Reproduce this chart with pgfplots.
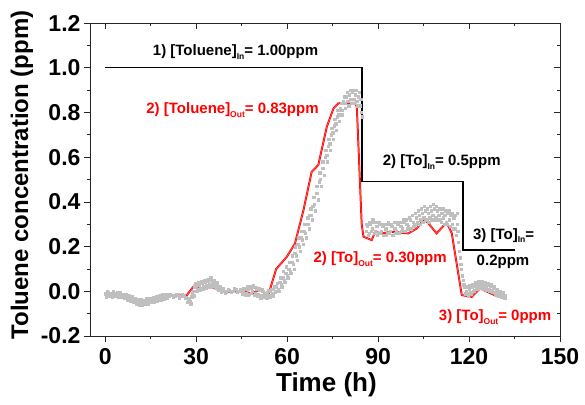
\documentclass[border=0pt]{standalone}
\usepackage{fontspec}
\setmainfont{Liberation Sans}
\usepackage{pgfplots}
\pgfplotsset{compat=1.18}
\newcommand\sub[1]{\raisebox{-0.45ex}{\fontsize{8.5}{8.5}\selectfont #1}}
\begin{document}
\begin{tikzpicture}
\useasboundingbox (-90pt,-68pt) rectangle (495pt,336pt);
\pgfplotsset{
  base/.style={
    scale only axis, width=470pt, height=313pt,
    xmin=-5, xmax=150, ymin=-0.2, ymax=1.2,
    xtick={0,30,...,150}, ytick={-0.2,0,...,1.2},
    minor x tick num=1, minor y tick num=1,
    axis line style={line width=0.7pt, black!85},
    major tick length=6pt, minor tick length=3pt,
    every tick/.style={black!85, line width=0.6pt},
  }
}
\begin{axis}[base,
  tick pos=left, tick align=outside,
  /pgf/number format/assume math mode=true,
  ticklabel style={font=\fontsize{23}{23}\selectfont\bfseries},
  xticklabel style={yshift=-3pt},
  yticklabel style={/pgf/number format/fixed, /pgf/number format/fixed zerofill, /pgf/number format/precision=1},
  xlabel={Time (h)}, ylabel={Toluene concentration (ppm)},
  xlabel style={font=\fontsize{26}{26}\selectfont\bfseries, at={(axis description cs:0.503,-0.157)}, anchor=center},
  ylabel style={font=\fontsize{24}{24}\selectfont\bfseries, at={(axis description cs:-0.145,0.515)}, anchor=center},
  clip=false,
]
% raw measured data (gray)
\addplot[only marks, mark=square*, mark size=1.2pt, color=black!25] coordinates {
(0,-0.01) (0.5,-0.02) (1,-0.005) (1.5,-0.015) (2,-0.02) (2.5,-0.008) (3,-0.012) (3.5,-0.022) (4,-0.005) (4.5,-0.018)
(5,-0.01) (5.5,-0.025) (6,-0.015) (6.5,-0.02) (7,-0.03) (7.5,-0.022) (8,-0.035) (8.5,-0.028) (9,-0.04) (9.5,-0.032)
(10,-0.045) (10.5,-0.038) (11,-0.05) (11.5,-0.042) (12,-0.055) (12.5,-0.045) (13,-0.05) (13.5,-0.038) (14,-0.052) (14.5,-0.04)
(15,-0.045) (15.5,-0.035) (16,-0.042) (16.5,-0.03) (17,-0.038) (17.5,-0.026) (18,-0.032) (18.5,-0.022) (19,-0.03) (19.5,-0.018)
(20,-0.025) (20.5,-0.015) (21,-0.022) (22,-0.018) (23,-0.02) (24,-0.015) (25,-0.022) (26,-0.02) (27,-0.03) (27.5,-0.04)
(28,-0.045) (28.5,-0.025) (29,0.0) (29.5,0.02) (30,0.025) (30.5,0.01) (31,0.03) (31.5,0.015) (32,0.035) (32.5,0.02)
(33,0.04) (33.5,0.025) (34,0.045) (34.5,0.03) (35,0.05) (35.5,0.035) (36,0.04) (36.5,0.025) (37,0.03) (37.5,0.015)
(38,0.01) (38.5,0.0) (39,0.005) (40,-0.002) (41,0.005) (42,0.0) (43,0.008) (44,0.0) (45,0.005) (45.5,-0.005)
(46,0.01) (46.5,-0.008) (47,0.012) (47.5,-0.012) (48,0.015) (48.5,0.0) (49,0.018) (49.5,-0.01) (50,0.01) (50.5,-0.015)
(51,0.005) (51.5,-0.02) (52,0.0) (52.5,-0.015) (53,-0.02) (53.5,-0.005) (54,-0.018) (54.5,0.0) (55,-0.01) (55.5,0.01)
(56,-0.005) (56.5,0.02) (57,0.01) (57.5,0.04) (58,0.03) (58.5,0.06) (59,0.05) (59.5,0.08) (60,0.07) (60.5,0.1)
(61,0.09) (61.5,0.13) (62,0.12) (62.5,0.17) (63,0.16) (63.5,0.21) (64,0.2) (64.5,0.24) (65,0.23) (65.5,0.27)
(66,0.26) (66.5,0.3) (67,0.3) (67.5,0.34) (68,0.34) (68.5,0.38) (69,0.39) (69.5,0.44) (70,0.44) (70.5,0.49)
(71,0.5) (71.5,0.55) (72,0.55) (72.5,0.6) (73,0.61) (73.5,0.65) (74,0.66) (74.5,0.7) (75,0.71) (75.5,0.74)
(76,0.75) (76.5,0.78) (77,0.79) (77.5,0.82) (78,0.81) (78.5,0.85) (79,0.84) (79.5,0.87) (80,0.85) (80.5,0.88)
(81,0.86) (81.5,0.89) (82,0.86) (82.5,0.88) (83,0.85) (83.5,0.87) (84,0.83) (84.5,0.8)
(86,0.27) (86.5,0.29) (87,0.26) (87.5,0.3) (88,0.28) (88.5,0.31) (89,0.27) (89.5,0.29) (90,0.26) (90.5,0.3)
(91,0.27) (91.5,0.29) (92,0.25) (92.5,0.28) (93,0.26) (93.5,0.3) (94,0.27) (94.5,0.29) (95,0.25) (95.5,0.28)
(96,0.27) (96.5,0.3) (97,0.26) (97.5,0.29) (98,0.28) (98.5,0.31) (99,0.27) (99.5,0.3) (100,0.29) (100.5,0.32)
(101,0.28) (101.5,0.31) (102,0.3) (102.5,0.33) (103,0.31) (103.5,0.34) (104,0.32) (104.5,0.35) (105,0.33) (105.5,0.36)
(106,0.32) (106.5,0.35) (107,0.33) (107.5,0.36) (108,0.34) (108.5,0.37) (109,0.33) (109.5,0.36) (110,0.34) (110.5,0.32)
(111,0.35) (111.5,0.33) (112,0.34) (112.5,0.31) (113,0.35) (113.5,0.32) (114,0.34) (114.5,0.3) (115,0.33) (115.5,0.28)
(116,0.3) (116,0.35) (116.5,0.22) (117,0.15) (117.5,0.1) (118,0.05) (118.5,0.02) (119,0.0) (119.5,-0.01) (120,0.01)
(120.5,-0.005) (121,0.02) (121.5,0.0) (122,0.025) (122.5,0.01) (123,0.03) (123.5,0.015) (124,0.035) (124.5,0.02) (125,0.03)
(125.5,0.015) (126,0.028) (126.5,0.01) (127,0.025) (127.5,0.005) (128,0.015) (128.5,-0.005) (129,0.005) (129.5,-0.01) (130,-0.005)
(130.5,-0.02) (131,-0.012) (131.5,-0.025) (132,-0.02)
};
\addplot[only marks, mark=square*, mark size=1.2pt, color=black!25] coordinates {
(0.25,-0.025) (0.75,0.0) (1.25,-0.022) (1.75,-0.008) (2.25,-0.025) (2.75,0.0) (3.25,-0.018) (3.75,-0.01) (4.25,-0.025) (4.75,-0.005)
(5.25,-0.02) (5.75,-0.012) (6.25,-0.028) (6.75,-0.012) (7.25,-0.038) (7.75,-0.018) (8.25,-0.045) (8.75,-0.025) (9.25,-0.05) (9.75,-0.03)
(10.25,-0.055) (10.75,-0.035) (11.25,-0.06) (11.75,-0.035) (12.25,-0.06) (12.75,-0.04) (13.25,-0.058) (13.75,-0.03) (14.25,-0.055) (14.75,-0.032)
(15.25,-0.05) (15.75,-0.028) (16.25,-0.048) (16.75,-0.025) (17.25,-0.042) (17.75,-0.02) (18.25,-0.038) (18.75,-0.015) (19.25,-0.035) (19.75,-0.012)
(20.25,-0.03) (21.5,-0.012) (22.5,-0.025) (23.5,-0.012) (24.5,-0.028) (25.5,-0.015) (26.5,-0.028) (27.25,-0.05) (27.75,-0.03) (28.25,-0.055)
(28.75,-0.01) (29.25,-0.02) (29.75,0.035) (30.25,0.0) (30.75,0.04) (31.25,0.005) (31.75,0.045) (32.25,0.01) (32.75,0.05) (33.25,0.015)
(33.75,0.055) (34.25,0.02) (34.75,0.06) (35.25,0.025) (35.75,0.05) (36.25,0.015) (36.75,0.04) (37.25,0.005) (37.75,0.02) (38.25,-0.005)
(38.75,0.012) (39.5,-0.008) (40.5,0.01) (41.5,-0.005) (42.5,0.012) (43.5,-0.005) (44.5,0.01) (45.25,-0.012) (45.75,0.015) (46.25,-0.015)
(46.75,0.02) (47.25,-0.018) (47.75,0.022) (48.25,-0.008) (48.75,0.025) (49.25,-0.018) (49.75,0.018) (50.25,-0.022) (50.75,0.012) (51.25,-0.028)
(51.75,0.008) (52.25,-0.025) (52.75,-0.01) (53.25,-0.03) (53.75,0.005) (54.25,-0.025) (54.75,0.01) (55.25,-0.02) (55.75,0.02) (56.25,0.0)
(56.75,0.035) (57.25,0.0) (57.75,0.06) (58.25,0.02) (58.75,0.09) (59.25,0.04) (59.75,0.11) (60.25,0.06) (60.75,0.13) (61.25,0.08)
(61.75,0.16) (62.25,0.1) (62.75,0.2) (63.25,0.14) (63.75,0.24) (64.25,0.18) (64.75,0.27) (65.25,0.21) (65.75,0.3) (66.25,0.24)
(66.75,0.33) (67.25,0.28) (67.75,0.37) (68.25,0.32) (68.75,0.42) (69.25,0.36) (69.75,0.47) (70.25,0.41) (70.75,0.53) (71.25,0.47)
(71.75,0.58) (72.25,0.52) (72.75,0.63) (73.25,0.58) (73.75,0.68) (74.25,0.63) (74.75,0.73) (75.25,0.68) (75.75,0.77) (76.25,0.72)
(76.75,0.81) (77.25,0.76) (77.75,0.84) (78.25,0.79) (78.75,0.87) (79.25,0.82) (79.75,0.89) (80.25,0.83) (80.75,0.9) (81.25,0.84)
(81.75,0.9) (82.25,0.84) (82.75,0.9) (83.25,0.83) (83.75,0.89) (84.25,0.86) (84.75,0.78)
(86.25,0.3) (86.75,0.25) (87.25,0.31) (87.75,0.27) (88.25,0.32) (88.75,0.26) (89.25,0.31) (89.75,0.25) (90.25,0.31) (90.75,0.26)
(91.25,0.3) (91.75,0.25) (92.25,0.3) (92.75,0.25) (93.25,0.31) (93.75,0.26) (94.25,0.3) (94.75,0.25) (95.25,0.31) (95.75,0.26)
(96.25,0.31) (96.75,0.26) (97.25,0.31) (97.75,0.27) (98.25,0.32) (98.75,0.27) (99.25,0.32) (99.75,0.28) (100.25,0.33) (100.75,0.28)
(101.25,0.34) (101.75,0.29) (102.25,0.35) (102.75,0.3) (103.25,0.36) (103.75,0.3) (104.25,0.37) (104.75,0.31) (105.25,0.38) (105.75,0.32)
(106.25,0.37) (106.75,0.31) (107.25,0.38) (107.75,0.32) (108.25,0.39) (108.75,0.32) (109.25,0.38) (109.75,0.32) (110.25,0.37) (110.75,0.31)
(111.25,0.37) (111.75,0.3) (112.25,0.36) (112.75,0.3) (113.25,0.36) (113.75,0.29) (114.25,0.35) (114.75,0.28) (115.25,0.34) (115.75,0.25)
(116.25,0.27) (116.75,0.18) (117.25,0.12) (117.75,0.07) (118.25,0.03) (118.75,-0.01) (119.25,0.02) (119.75,-0.02) (120.25,0.025) (120.75,-0.01)
(121.25,0.03) (121.75,0.005) (122.25,0.04) (122.75,0.015) (123.25,0.045) (123.75,0.02) (124.25,0.045) (124.75,0.01) (125.25,0.04) (125.75,0.005)
(126.25,0.035) (126.75,0.0) (127.25,0.03) (127.75,-0.005) (128.25,0.02) (128.75,-0.015) (129.25,0.01) (129.75,-0.02) (130.25,0.0) (130.75,-0.025)
(131.25,-0.005) (131.75,-0.03)
};
% outlet concentration (red)
\addplot[draw=red, double=red!55!white, double distance=0.45pt, line width=0.75pt] coordinates {
(0,-0.014) (6,-0.014) (12,-0.045) (16,-0.035) (21,-0.021) (27,-0.016) (29.7,0.031) (31.3,0.013)
(33.5,0.02) (35.7,0.017) (38.4,-0.002) (45,0) (48.4,-0.01) (51.1,0.008) (53.8,-0.017) (56.4,0.10)
(59.9,0.154) (62.6,0.214) (65.4,0.363) (68.1,0.534) (70.3,0.565) (73.1,0.736) (75.3,0.818) (76.9,0.841)
(82.4,0.843) (83,0.825) (84.6,0.30) (85.2,0.244) (87.9,0.229) (89,0.266) (91.2,0.259) (94.5,0.266)
(100,0.259) (102.8,0.281) (105,0.322) (106.6,0.304) (109.3,0.259) (112.6,0.308) (114.3,0.26)
(117.6,-0.017) (120.9,-0.025) (123.6,0.013) (129.7,-0.025)
};
% inlet concentration (black)
\addplot[black, line width=1.2pt] coordinates {
(0,1.0) (84.7,1.0) (84.7,0.49) (118,0.49) (118,0.185) (135,0.185)
};
\node[font=\fontsize{15}{15}\selectfont\bfseries] at (axis cs:43,1.07) {1) [Toluene]\sub{In}= 1.00ppm};
\node[font=\fontsize{15}{15}\selectfont\bfseries, text=red] at (axis cs:42,0.81) {2) [Toluene]\sub{Out}= 0.83ppm};
\node[font=\fontsize{15}{15}\selectfont\bfseries] at (axis cs:111,0.578) {2) [To]\sub{In}= 0.5ppm};
\node[font=\fontsize{15}{15}\selectfont\bfseries, text=red] at (axis cs:90.7,0.144) {2) [To]\sub{Out}= 0.30ppm};
\node[font=\fontsize{15}{15}\selectfont\bfseries] at (axis cs:131.4,0.25) {3) [To]\sub{In}=};
\node[font=\fontsize{15}{15}\selectfont\bfseries] at (axis cs:131.2,0.132) {0.2ppm};
\node[font=\fontsize{15}{15}\selectfont\bfseries, text=red] at (axis cs:128.6,-0.115) {3) [To]\sub{Out}= 0ppm};
\end{axis}
\begin{axis}[base, tick pos=right, tick align=inside, xticklabels={}, yticklabels={}]
\end{axis}
\end{tikzpicture}
\end{document}
